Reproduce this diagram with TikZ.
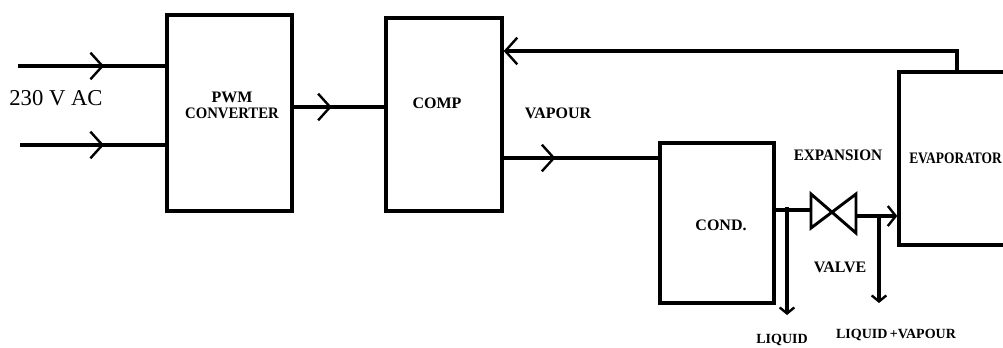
\documentclass[tikz,border=0pt]{standalone}
\usepackage{fontspec}
\setmainfont{Liberation Serif}
\usetikzlibrary{arrows.meta,decorations.markings}
\tikzset{
  wire/.style={line width=2.5pt},
  box/.style={draw, line width=2.5pt, inner sep=0pt},
  lbl/.style={font=\bfseries\fontsize{12}{13}\selectfont, inner sep=0pt},
  bigbarb/.tip={Straight Barb[length=9pt,width=20pt,line width=1.8pt]},
  smallbarb/.tip={Straight Barb[length=4.5pt,width=11pt,line width=1.8pt]},
  midarrow/.style={postaction={decorate}, decoration={markings, mark=at position #1 with {\arrow{bigbarb}}}},
}
\begin{document}
\begin{tikzpicture}[x=0.75pt,y=-0.75pt]
\useasboundingbox (0,0) rectangle (1003,347);
\clip (0,0) rectangle (1003,347);
% boxes
\node[box, minimum width=125*0.75pt, minimum height=196*0.75pt] (pwm) at (229.5,113) {};
\node[box, minimum width=116*0.75pt, minimum height=193*0.75pt] (comp) at (444,114.5) {};
\node[box, minimum width=114*0.75pt, minimum height=160*0.75pt] (cond) at (717,223) {};
\node[box, minimum width=140*0.75pt, minimum height=173*0.75pt] (evap) at (969,158.5) {};
% labels
\node[inner sep=0pt, font=\fontsize{17}{18}\selectfont] (ac) at (56,98) {230 V AC};
\node[lbl, align=center] (pwmt) at (232,105) {PWM\\[-1pt]\scalebox{0.92}[1]{CONVERTER}};
\node[lbl] (compt) at (437,103) {COMP};
\node[lbl] (vap) at (558,113) {VAPOUR};
\node[lbl] (condt) at (721,225) {COND.};
\node[lbl] (exp) at (838,155) {\scalebox{0.95}[1]{EXPANSION}};
\node[lbl] (valt) at (840,267) {VALVE};
\node[lbl, anchor=west] (evapt) at (909,158) {\scalebox{0.84}[1]{EVAPORATOR}};
\node[lbl, font=\bfseries\fontsize{10.5}{12}\selectfont] (liq) at (782,340) {LIQUID};
\node[lbl, font=\bfseries\fontsize{10.5}{12}\selectfont] (liqv) at (896,335) {LIQUID\,+VAPOUR};
% coordinates
\coordinate (in1) at (18,66);
\coordinate (in2) at (20,145);
\coordinate (fb) at (957,51);
\coordinate (vl) at (811,210);
\coordinate (vr) at (856,216);
\coordinate (d1) at (787,315);
\coordinate (d2) at (879,303);
% inputs
\draw[wire, midarrow=0.584] (in1) -- (in1 -| pwm.west);
\draw[wire, midarrow=0.578] (in2) -- (in2 -| pwm.west);
% pwm -> comp
\draw[wire, midarrow=0.42] (pwm.east |- 0,107) -- (comp.west |- 0,107);
% comp -> cond
\draw[wire, midarrow=0.335] (comp.east |- 0,158) -- (cond.west |- 0,158);
% feedback
\draw[wire, -{bigbarb}] (fb |- evap.north) -- (fb) -- (fb -| comp.east);
% cond -> valve
\draw[wire] (cond.east |- vl) -- (vl);
\draw[wire, -{smallbarb}] (d1 |- 0,207) -- (d1);
% valve
\node[inner sep=0pt, minimum size=0pt] (valve) at (833.5,212) {};
\draw[line width=2.2pt] (811,194) -- (811,228) -- (856,194) -- (856,233) -- cycle;
% valve -> evap
\draw[wire, -{Straight Barb[length=6pt,width=15pt,line width=1.8pt]}] (vr) -- (vr -| evap.west);
\draw[wire, -{smallbarb}] (d2 |- vr) -- (d2);
\end{tikzpicture}
\end{document}
